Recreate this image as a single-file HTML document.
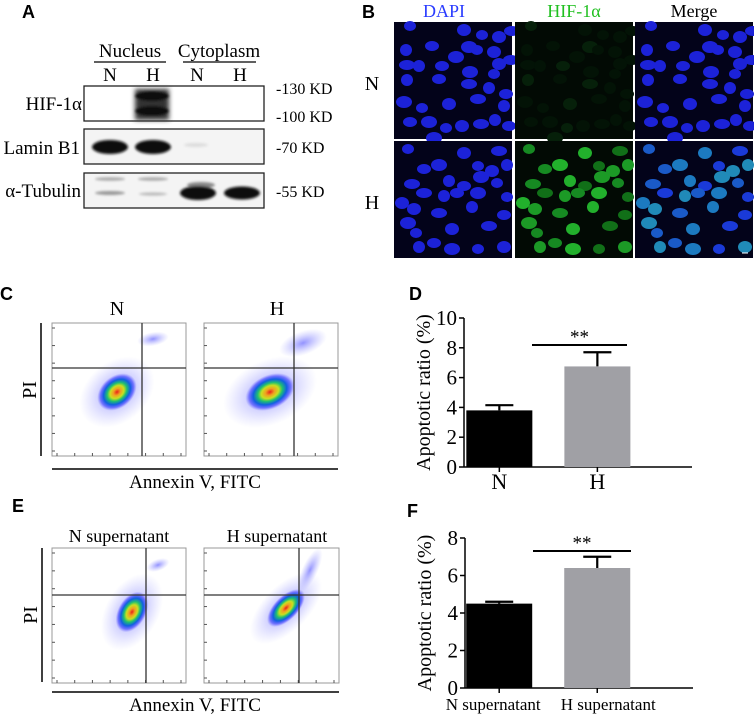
<!DOCTYPE html>
<html><head><meta charset="utf-8">
<style>
html,body{margin:0;padding:0;background:#fff;}
body{width:754px;height:716px;position:relative;overflow:hidden;font-family:"Liberation Serif",serif;}
svg{position:absolute;left:0;top:0;}
</style></head>
<body>
<svg id="fig" width="754" height="716" viewBox="0 0 754 716">
<defs>
  <filter id="blur2"><feGaussianBlur stdDeviation="2"/></filter>
  <filter id="blur1"><feGaussianBlur stdDeviation="1.2"/></filter>
  <radialGradient id="flowg">
    <stop offset="0" stop-color="#e8201a"/>
    <stop offset="0.18" stop-color="#f0a020"/>
    <stop offset="0.35" stop-color="#c8e020"/>
    <stop offset="0.5" stop-color="#20c070"/>
    <stop offset="0.68" stop-color="#1060e0"/>
    <stop offset="0.85" stop-color="#3a3aff" stop-opacity="0.6"/>
    <stop offset="1" stop-color="#6a6aff" stop-opacity="0"/>
  </radialGradient>
  <radialGradient id="haze">
    <stop offset="0" stop-color="#3a3aff" stop-opacity="0.55"/>
    <stop offset="1" stop-color="#8080ff" stop-opacity="0"/>
  </radialGradient>
</defs>

<g font-family="Liberation Sans, sans-serif" font-weight="bold" font-size="18">
  <text x="22" y="18">A</text>
  <text x="362" y="18">B</text>
  <text x="0" y="300">C</text>
  <text x="409" y="300">D</text>
  <text x="12" y="512">E</text>
  <text x="407" y="517">F</text>
</g>

<g id="panelA" font-size="19">
  <text x="130" y="57" text-anchor="middle">Nucleus</text>
  <line x1="94" y1="62" x2="166" y2="62" stroke="#000" stroke-width="1.2"/>
  <text x="219" y="57" text-anchor="middle">Cytoplasm</text>
  <line x1="183" y1="62" x2="256" y2="62" stroke="#000" stroke-width="1.2"/>
  <text x="110" y="81" text-anchor="middle">N</text>
  <text x="153" y="81" text-anchor="middle">H</text>
  <text x="197" y="81" text-anchor="middle">N</text>
  <text x="240" y="81" text-anchor="middle">H</text>
  <text x="82" y="110" text-anchor="end" font-size="19">HIF-1α</text>
  <text x="80" y="154" text-anchor="end" font-size="19">Lamin B1</text>
  <text x="81" y="197" text-anchor="end" font-size="19">α-Tubulin</text>
  <g font-size="16">
    <text x="276" y="94">-130 KD</text>
    <text x="276" y="122">-100 KD</text>
    <text x="276" y="153">-70 KD</text>
    <text x="276" y="197">-55 KD</text>
  </g>
  <rect x="84" y="86" width="180" height="35" fill="#fff" stroke="#222" stroke-width="1.3"/>
  <rect x="84" y="129" width="180" height="35" fill="#f4f4f4" stroke="#222" stroke-width="1.3"/>
  <rect x="84" y="173" width="180" height="35" fill="#f4f4f4" stroke="#222" stroke-width="1.3"/>
  <g filter="url(#blur1)">
    <rect x="135" y="89" width="34" height="31" fill="#333" filter="url(#blur2)"/>
    <ellipse cx="152" cy="96" rx="17" ry="5" fill="#111"/>
    <ellipse cx="152" cy="111" rx="17" ry="5" fill="#111"/>
    <ellipse cx="110" cy="147" rx="18" ry="7" fill="#111"/>
    <ellipse cx="153" cy="147" rx="18" ry="7" fill="#111"/>
    <ellipse cx="196" cy="145" rx="12" ry="2" fill="#ddd"/>
    <ellipse cx="110" cy="179" rx="15" ry="1.8" fill="#aaa"/>
    <ellipse cx="153" cy="179" rx="15" ry="1.8" fill="#aaa"/>
    <ellipse cx="110" cy="193" rx="15" ry="2" fill="#999"/>
    <ellipse cx="153" cy="194" rx="14" ry="1.6" fill="#bbb"/>
    <ellipse cx="201" cy="185" rx="14" ry="3" fill="#888"/>
    <ellipse cx="198" cy="193" rx="18" ry="7" fill="#111"/>
    <ellipse cx="242" cy="193" rx="18" ry="6.5" fill="#111"/>
  </g>
</g>

<g id="panelB">
  <text x="444" y="17" text-anchor="middle" fill="#2a3cff" font-size="18">DAPI</text>
  <text x="574" y="17" text-anchor="middle" fill="#20c020" font-size="18">HIF-1α</text>
  <text x="694" y="17" text-anchor="middle" fill="#000" font-size="18">Merge</text>
  <text x="372" y="90" text-anchor="middle" font-size="20">N</text>
  <text x="372" y="209" text-anchor="middle" font-size="20">H</text>
  <g id="ifImgs"></g>
</g>

<g id="panelC" font-size="20">
  <text x="117" y="315" text-anchor="middle">N</text>
  <text x="277" y="315" text-anchor="middle">H</text>
  <g id="flowC"></g>
  <line x1="41" y1="323" x2="41" y2="456" stroke="#000" stroke-width="1.5"/>
  <text transform="translate(36,390) rotate(-90)" text-anchor="middle">PI</text>
  <line x1="52" y1="469" x2="338" y2="469" stroke="#000" stroke-width="1.5"/>
  <text x="195" y="488" text-anchor="middle" font-size="19">Annexin V, FITC</text>
</g>

<g id="panelE" font-size="18">
  <text x="119" y="542" text-anchor="middle">N supernatant</text>
  <text x="277" y="542" text-anchor="middle">H supernatant</text>
  <g id="flowE"></g>
  <line x1="42" y1="548" x2="42" y2="682" stroke="#000" stroke-width="1.5"/>
  <text transform="translate(37,615) rotate(-90)" text-anchor="middle" font-size="20">PI</text>
  <line x1="52" y1="692" x2="339" y2="692" stroke="#000" stroke-width="1.5"/>
  <text x="195" y="711" text-anchor="middle" font-size="19">Annexin V, FITC</text>
</g>

<g id="chartD"></g>
<g id="chartF"></g>
</svg>

<script>
// ---- Chart D data ----
const dCategories = ["N", "H"];
const dValues = [3.8, 6.75];
const dErrors = [0.35, 0.95];
const dTicks = [0, 2, 4, 6, 8, 10];
// ---- Chart F data ----
const fCategories = ["N supernatant", "H supernatant"];
const fValues = [4.5, 6.4];
const fErrors = [0.1, 0.6];
const fTicks = [0, 2, 4, 6, 8];
const sigLabel = "**";

const NS = "http://www.w3.org/2000/svg";
function mk(tag, attrs, parent) {
  const e = document.createElementNS(NS, tag);
  for (const k in attrs) e.setAttribute(k, attrs[k]);
  if (parent) parent.appendChild(e);
  return e;
}

function barChart(g, cfg) {
  const { cats, vals, errs, ticks, x0, x1, yTop, yBot, barW, centers, fs, sigY, sigX, labelDx } = cfg;
  const maxV = ticks[ticks.length - 1];
  const y = v => yBot - (v / maxV) * (yBot - yTop);
  const xs = i => x0 + centers[i] * (x1 - x0);
  const ax = mk('line', { x1: x0, y1: yTop, x2: x0, y2: yBot, stroke: '#000', 'stroke-width': 1.5 }, g);
  
  
  const bx = mk('line', { x1: x0, y1: yBot, x2: x1, y2: yBot, stroke: '#000', 'stroke-width': 1.5 }, g);
  
  
  ticks.forEach(t => {
    mk('line', { x1: x0 - 5, y1: y(t), x2: x0, y2: y(t), stroke: '#000', 'stroke-width': 1.5 }, g);
    const tl = mk('text', { x: x0 - 7, y: y(t) + 7, 'text-anchor': 'end', 'font-size': 21 }, g);
    tl.textContent = t;
    
    
  });
  const title = mk('text', { transform: `translate(${x0 - 34},${(yTop + yBot) / 2}) rotate(-90)`, 'text-anchor': 'middle', 'font-size': 20 }, g);
  title.textContent = 'Apoptotic ratio (%)';
  
  
  cats.forEach((c, i) => {
    const cx = xs(i);
    const col = i === 0 ? '#000' : '#a0a0a5';
    const eb = mk('path', { d: `M${cx} ${y(vals[i])} V${y(vals[i] + errs[i])} M${cx - 14} ${y(vals[i] + errs[i])} H${cx + 14}`, stroke: '#000', 'stroke-width': 2.2, fill: 'none' }, g);
    
    
    const r = mk('rect', { x: cx - barW / 2, y: y(vals[i]), width: barW, height: yBot - y(vals[i]), fill: col }, g);
    
    
    mk('line', { x1: cx, y1: yBot, x2: cx, y2: yBot + 5, stroke: '#000', 'stroke-width': 1.5 }, g);
    const xl = mk('text', { x: cx + labelDx[i], y: yBot + 22, 'text-anchor': 'middle', 'font-size': fs }, g);
    xl.textContent = c;
    
    
  });
  const sl = mk('line', { x1: sigX[0], y1: sigY, x2: sigX[1], y2: sigY, stroke: '#000', 'stroke-width': 2 }, g);
  
  
  const st = mk('text', { x: (sigX[0] + sigX[1]) / 2, y: sigY - 2, 'text-anchor': 'middle', 'font-size': 19 }, g);
  st.textContent = sigLabel;
  
  
}

barChart(document.getElementById('chartD'), {
  cats: dCategories, vals: dValues, errs: dErrors, ticks: dTicks,
  x0: 464, x1: 692, yTop: 318, yBot: 467, barW: 66, centers: [0.155, 0.585], fs: 22,
  sigY: 345, sigX: [532, 627], labelDx: [0, 0]
});
barChart(document.getElementById('chartF'), {
  cats: fCategories, vals: fValues, errs: fErrors, ticks: fTicks,
  x0: 465, x1: 693, yTop: 538, yBot: 688, barW: 66, centers: [0.15, 0.58], fs: 17,
  sigY: 551, sigX: [533, 631], labelDx: [-6, 11]
});

function flowPlot(g, px, py, w, h, qx, qy, blob, upper, name) {
  const gg = mk('g', {}, g);
  
  
  mk('rect', { x: px, y: py, width: w, height: h, fill: '#fff', stroke: '#999', 'stroke-width': 1 }, gg);
  mk('ellipse', { cx: blob[0], cy: blob[1], rx: blob[2] * 1.9, ry: blob[3] * 1.9, fill: 'url(#haze)', transform: `rotate(${blob[4]} ${blob[0]} ${blob[1]})` }, gg);
  mk('ellipse', { cx: upper[0], cy: upper[1], rx: upper[2], ry: upper[3], fill: 'url(#haze)', transform: `rotate(${upper[4]} ${upper[0]} ${upper[1]})` }, gg);
  mk('ellipse', { cx: blob[0], cy: blob[1], rx: blob[2], ry: blob[3], fill: 'url(#flowg)', transform: `rotate(${blob[4]} ${blob[0]} ${blob[1]})` }, gg);
  for (let i = 0; i < 8; i++) {
    const ty = py + 5 + i * (h - 10) / 7;
    mk('line', { x1: px, y1: ty, x2: px + 3, y2: ty, stroke: '#555', 'stroke-width': 1 }, gg);
    const tx = px + 5 + i * (w - 10) / 7;
    mk('line', { x1: tx, y1: py + h, x2: tx, y2: py + h - 3, stroke: '#555', 'stroke-width': 1 }, gg);
  }
  mk('line', { x1: qx, y1: py, x2: qx, y2: py + h, stroke: '#333', 'stroke-width': 1.3 }, gg);
  mk('line', { x1: px, y1: qy, x2: px + w, y2: qy, stroke: '#333', 'stroke-width': 1.3 }, gg);
}
const fc = document.getElementById('flowC');
flowPlot(fc, 52, 323, 134, 133, 142, 368, [117, 392, 22, 16, -40], [153, 339, 16, 7, -10], 'flow-plot-n');
flowPlot(fc, 204, 323, 134, 133, 294, 368, [270, 392, 26, 17, -25], [303, 343, 25, 12, -20], 'flow-plot-h');
const fe = document.getElementById('flowE');
flowPlot(fe, 52, 548, 134, 135, 146, 595, [132, 612, 22, 14, -60], [158, 565, 12, 6, -20], 'flow-plot-n-supernatant');
flowPlot(fe, 204, 548, 135, 135, 299, 595, [286, 608, 24, 12, -45], [310, 570, 8, 24, 25], 'flow-plot-h-supernatant');

const cellsTop = [[16,4],[70,8],[118,9],[12,28],[38,24],[75,25],[88,13],[105,15],[13,43],[25,44],[48,44],[62,35],[83,28],[100,30],[117,38],[13,58],[45,57],[76,50],[100,52],[105,42],[75,62],[95,66],[112,72],[10,80],[28,86],[55,82],[84,77],[110,84],[16,100],[35,100],[52,106],[68,104],[87,102],[101,98],[115,104],[40,116]];
const cellsBot = [[14,8],[70,12],[105,10],[113,24],[30,28],[45,24],[84,25],[98,30],[18,43],[55,40],[70,45],[87,36],[103,42],[8,62],[30,52],[50,55],[63,52],[84,52],[113,56],[20,68],[45,72],[78,66],[110,74],[14,82],[22,92],[58,88],[95,85],[25,106],[40,102],[58,108],[84,108],[110,106]];
const ifG = document.getElementById('ifImgs');
const cols = [394, 515, 635];
const rows = [22, 141];
function cellColor(col, row, i) {
  if (col === 0) return '#1c22d8';
  if (col === 1) {
    if (row === 0) return i % 5 === 0 ? '#06200a' : '#031306';
    return ['#168a22', '#22b02c', '#117018', '#1c9a26'][i % 4];
  }
  if (row === 0) return '#1c22d8';
  return ['#1a5ac8', '#1c7ac0', '#1a3ad8', '#208ab8'][i % 4];
}
cols.forEach((cx, ci) => {
  rows.forEach((ry, ri) => {
    const g = mk('g', {}, ifG);
    
    
    mk('rect', { x: cx, y: ry, width: 118, height: 117, fill: ci === 1 ? '#020a04' : '#03031a' }, g);
    const cells = ri === 0 ? cellsTop : cellsBot;
    cells.forEach((c, i) => {
      mk('ellipse', { cx: cx + c[0], cy: ry + c[1], rx: 6 + (i % 3), ry: 5 + (i % 2), fill: cellColor(ci, ri, i) }, g);
    });
  });
});
mk('line', { x1: 742, y1: 253, x2: 748, y2: 253, stroke: '#fff', 'stroke-width': 1 }, ifG);
</script>
</body></html>
